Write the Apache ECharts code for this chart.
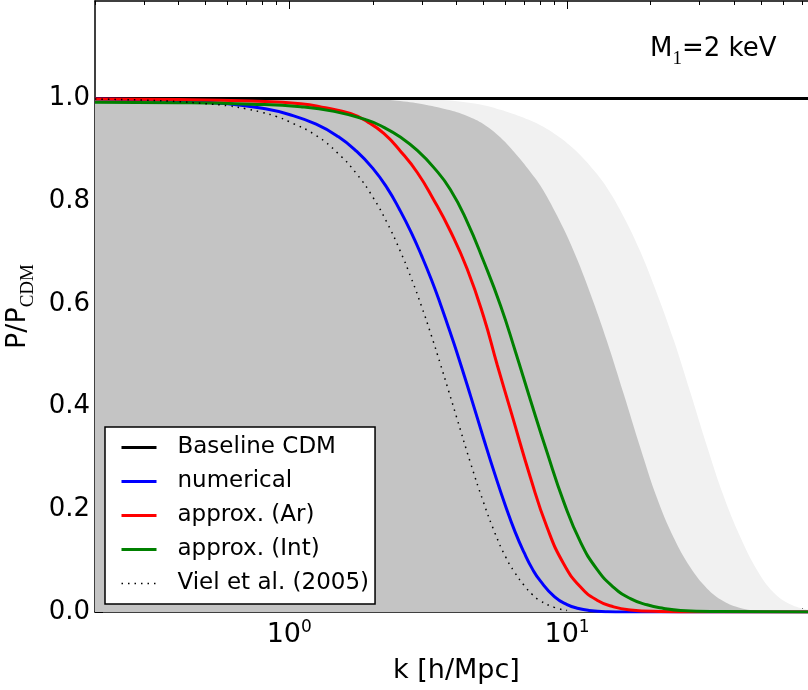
<!DOCTYPE html>
<html>
<head>
<meta charset="utf-8">
<script src="https://cdn.jsdelivr.net/npm/echarts@6/dist/echarts.min.js"></script>
<style>
  html, body { margin: 0; padding: 0; background: #ffffff; }
  #chart { width: 808px; height: 690px; }
</style>
</head>
<body>
<div id="chart"></div>
<script>
// Wavenumber k [h/Mpc] and suppression P/P_CDM along each curve
const cdmK = [0.2, 80];
const cdmRatio = [1, 1];

const numericalK = [0.2, 0.4, 0.6, 0.8, 1.0, 1.25, 1.5, 1.75, 2.0, 2.25, 2.5, 2.75, 3.0, 3.25, 3.5, 3.75, 4.0, 4.5, 5.0, 5.5, 6.0, 6.5, 7.0, 7.5, 8.0, 9.0, 10, 11, 12, 14, 16, 80];
const numericalRatio = [0.999, 0.996, 0.990, 0.981, 0.969, 0.950, 0.926, 0.897, 0.864, 0.826, 0.783, 0.739, 0.693, 0.647, 0.600, 0.553, 0.508, 0.420, 0.339, 0.268, 0.207, 0.156, 0.116, 0.084, 0.061, 0.030, 0.0145, 0.0067, 0.003, 0.0006, 0.0001, 0];

const approxArK = [0.2, 0.4, 0.73, 1.1, 1.35, 1.66, 1.91, 2.19, 2.51, 2.89, 3.31, 3.8, 4.37, 5.01, 5.6, 6.34, 7.38, 8.47, 9.72, 11.16, 12.82, 14.71, 16.9, 21.7, 30.2, 80];
const approxArRatio = [0.999, 0.998, 0.995, 0.990, 0.982, 0.971, 0.955, 0.932, 0.898, 0.856, 0.803, 0.742, 0.668, 0.575, 0.482, 0.383, 0.262, 0.165, 0.094, 0.049, 0.023, 0.010, 0.004, 0.001, 0, 0];

const approxIntK = [0.2, 0.4, 0.73, 1.1, 1.45, 1.91, 2.19, 2.51, 2.89, 3.31, 3.8, 4.37, 5.01, 5.76, 6.52, 7.38, 8.47, 9.72, 11.16, 12.82, 14.71, 16.9, 19.4, 22.3, 25.6, 35.6, 80];
const approxIntRatio = [0.993, 0.992, 0.989, 0.984, 0.975, 0.958, 0.944, 0.925, 0.899, 0.866, 0.823, 0.760, 0.683, 0.597, 0.507, 0.413, 0.311, 0.215, 0.137, 0.083, 0.048, 0.026, 0.014, 0.007, 0.003, 0.001, 0];

const vielK = [0.2, 0.3, 0.4, 0.5, 0.6, 0.7, 0.8, 0.9, 1.0, 1.25, 1.5, 1.75, 2.0, 2.25, 2.5, 2.75, 3.0, 3.25, 3.5, 3.75, 4.0, 4.5, 5.0, 5.5, 6.0, 6.5, 7.0, 7.5, 8.0, 9.0, 10];
const vielRatio = [0.999, 0.997, 0.994, 0.990, 0.986, 0.980, 0.973, 0.965, 0.955, 0.928, 0.893, 0.853, 0.808, 0.758, 0.705, 0.650, 0.594, 0.538, 0.483, 0.430, 0.380, 0.289, 0.214, 0.154, 0.108, 0.076, 0.052, 0.034, 0.022, 0.009, 0.003];

// Shaded bands (inner dark band, outer light band)
const innerBandK = [0.2, 0.6, 1.2, 1.66, 2.13, 2.51, 3.09, 3.8, 4.37, 5.01, 5.76, 6.61, 7.38, 8.02, 9.2, 10.56, 12.13, 13.93, 15.98, 18.35, 21.07, 24.18, 27.76, 31.88, 36.59, 42.02, 49.58, 58.53, 80];
const innerBandRatio = [1.0, 1.0, 1.0, 1.0, 0.998, 0.995, 0.988, 0.977, 0.966, 0.950, 0.924, 0.889, 0.857, 0.830, 0.772, 0.703, 0.620, 0.527, 0.425, 0.320, 0.222, 0.145, 0.087, 0.046, 0.021, 0.008, 0.002, 0, 0];

const outerBandK = [0.2, 0.8, 1.6, 2.4, 3.0, 3.8, 5.01, 5.76, 6.79, 8.02, 9.2, 10.56, 12.13, 13.93, 15.98, 18.35, 21.07, 24.18, 27.76, 31.88, 36.59, 42.02, 48.26, 55.37, 63.57, 72.99, 80];
const outerBandRatio = [1.0, 1.0, 1.0, 1.0, 0.999, 0.996, 0.987, 0.978, 0.965, 0.948, 0.928, 0.902, 0.868, 0.826, 0.770, 0.702, 0.620, 0.530, 0.428, 0.323, 0.226, 0.146, 0.082, 0.038, 0.015, 0.005, 0.003];

// Axis ticks
const xMajorTicks = [1, 10];
const xMinorTicks = [0.2, 0.3, 0.4, 0.5, 0.6, 0.7, 0.8, 0.9, 2, 3, 4, 5, 6, 7, 8, 9, 20, 30, 40, 50, 60, 70];
const yTicks = [0, 0.2, 0.4, 0.6, 0.8, 1.0];

const legendNames = ['Baseline CDM', 'numerical', 'approx. (Ar)', 'approx. (Int)', 'Viel et al. (2005)'];

const SANS = 'DejaVu Sans';
const SERIF = 'Liberation Serif';
const X_MIN = 0.2, X_MAX = 80;
const Y_MIN = 0, Y_MAX = 1.19;

const pairs = (ks, vs) => ks.map((k, i) => [k, vs[i]]);

const chart = echarts.init(document.getElementById('chart'), null, { renderer: 'canvas', width: 808, height: 690 });

const logAxis = (extra) => Object.assign({
  type: 'log', logBase: 10, min: X_MIN, max: X_MAX, gridIndex: 0,
  splitLine: { show: false }, minorTick: { show: false }
}, extra);

const spine = { show: true, onZero: false, lineStyle: { color: '#000', width: 1.5 } };

const curve = (name, ks, vs, color, extraLine) => ({
  name, type: 'line', data: pairs(ks, vs), symbol: 'none', smooth: 0.5,
  xAxisIndex: 0, yAxisIndex: 0,
  lineStyle: Object.assign({ color, width: 3 }, extraLine || {}),
  itemStyle: { color },
  emphasis: { disabled: true }
});

const band = (ks, vs, color) => ({
  type: 'line', data: pairs(ks, vs), symbol: 'none', smooth: 0.4,
  xAxisIndex: 0, yAxisIndex: 0,
  lineStyle: { width: 0, color },
  areaStyle: { color, opacity: 1, origin: 'start' },
  emphasis: { disabled: true },
  silent: true
});

chart.setOption({
  animation: false,
  backgroundColor: '#ffffff',
  grid: { left: 95, right: -10, top: 1, bottom: 78, containLabel: false, outerBoundsMode: 'none' },
  xAxis: [
    logAxis({
      position: 'bottom',
      axisLine: spine,
      axisTick: { show: true, inside: true, length: 8, customValues: xMajorTicks, lineStyle: { color: '#000', width: 1 } },
      axisLabel: {
        customValues: xMajorTicks, margin: 7,
        formatter: (v) => '{b|10}{s|' + Math.round(Math.log10(v)) + '}',
        rich: {
          b: { fontFamily: SANS, fontSize: 27, color: '#000', lineHeight: 32 },
          s: { fontFamily: SANS, fontSize: 17, color: '#000', lineHeight: 17, verticalAlign: 'top' }
        }
      },
      name: 'k [h/Mpc]', nameLocation: 'middle', nameGap: 45,
      nameTextStyle: { fontFamily: SANS, fontSize: 27, color: '#000' }
    }),
    logAxis({
      position: 'bottom',
      axisLine: { show: false },
      axisTick: { show: true, inside: true, length: 4, customValues: xMinorTicks, lineStyle: { color: '#000', width: 1 } },
      axisLabel: { show: false }
    }),
    logAxis({
      position: 'top',
      axisLine: spine,
      axisTick: { show: true, inside: true, length: 8, customValues: xMajorTicks, lineStyle: { color: '#000', width: 1 } },
      axisLabel: { show: false }
    }),
    logAxis({
      position: 'top',
      axisLine: { show: false },
      axisTick: { show: true, inside: true, length: 4, customValues: xMinorTicks, lineStyle: { color: '#000', width: 1 } },
      axisLabel: { show: false }
    })
  ],
  yAxis: [{
    type: 'value', min: Y_MIN, max: Y_MAX, position: 'left',
    axisLine: spine,
    axisTick: { show: true, inside: true, length: 8, customValues: yTicks, lineStyle: { color: '#000', width: 1 } },
    axisLabel: {
      customValues: yTicks, margin: 5,
      formatter: (v) => v.toFixed(1),
      fontFamily: SANS, fontSize: 26, color: '#000'
    },
    splitLine: { show: false },
    name: '{m|P/P}{s|CDM}', nameLocation: 'middle', nameGap: 41,
    nameTextStyle: {
      rich: {
        m: { fontFamily: SANS, fontSize: 27, color: '#000', lineHeight: 28, verticalAlign: 'top' },
        s: { fontFamily: SERIF, fontSize: 19, color: '#000', lineHeight: 19, verticalAlign: 'top', padding: [14, 0, 0, 0] }
      }
    }
  }],
  legend: {
    data: legendNames.map((name, i) => ({
      name,
      lineStyle: { width: i === legendNames.length - 1 ? 1.5 : 3 }
    })),
    orient: 'vertical',
    left: 105, top: 427,
    backgroundColor: '#ffffff',
    borderColor: '#000', borderWidth: 1.5, borderRadius: 0,
    padding: [9, 6, 9, 15],
    itemGap: 11,
    itemWidth: 35, itemHeight: 14,
    selectedMode: false,
    itemStyle: { opacity: 0, borderWidth: 0 },
    textStyle: { fontFamily: SANS, fontSize: 23, color: '#000', lineHeight: 23, padding: [0, 0, 0, 16] }
  },
  graphic: [{
    type: 'text', x: 650, y: 36, silent: true,
    style: {
      text: '{m|M}{s|1}{m|=2 keV}',
      rich: {
        m: { fontFamily: SANS, fontSize: 26, fill: '#000', lineHeight: 28, verticalAlign: 'top' },
        s: { fontFamily: SERIF, fontSize: 19, fill: '#000', lineHeight: 19, verticalAlign: 'top', padding: [14, 0, 0, 0] }
      }
    }
  }],
  series: [
    band(outerBandK, outerBandRatio, '#f1f1f1'),
    band(innerBandK, innerBandRatio, '#c4c4c4'),
    curve('Baseline CDM', cdmK, cdmRatio, '#000000'),
    curve('numerical', numericalK, numericalRatio, '#0000ff'),
    curve('approx. (Ar)', approxArK, approxArRatio, '#ff0000'),
    curve('approx. (Int)', approxIntK, approxIntRatio, '#008000'),
    curve('Viel et al. (2005)', vielK, vielRatio, '#000000', { width: 1.5, type: [1.5, 5] })
  ]
});
</script>
</body>
</html>
